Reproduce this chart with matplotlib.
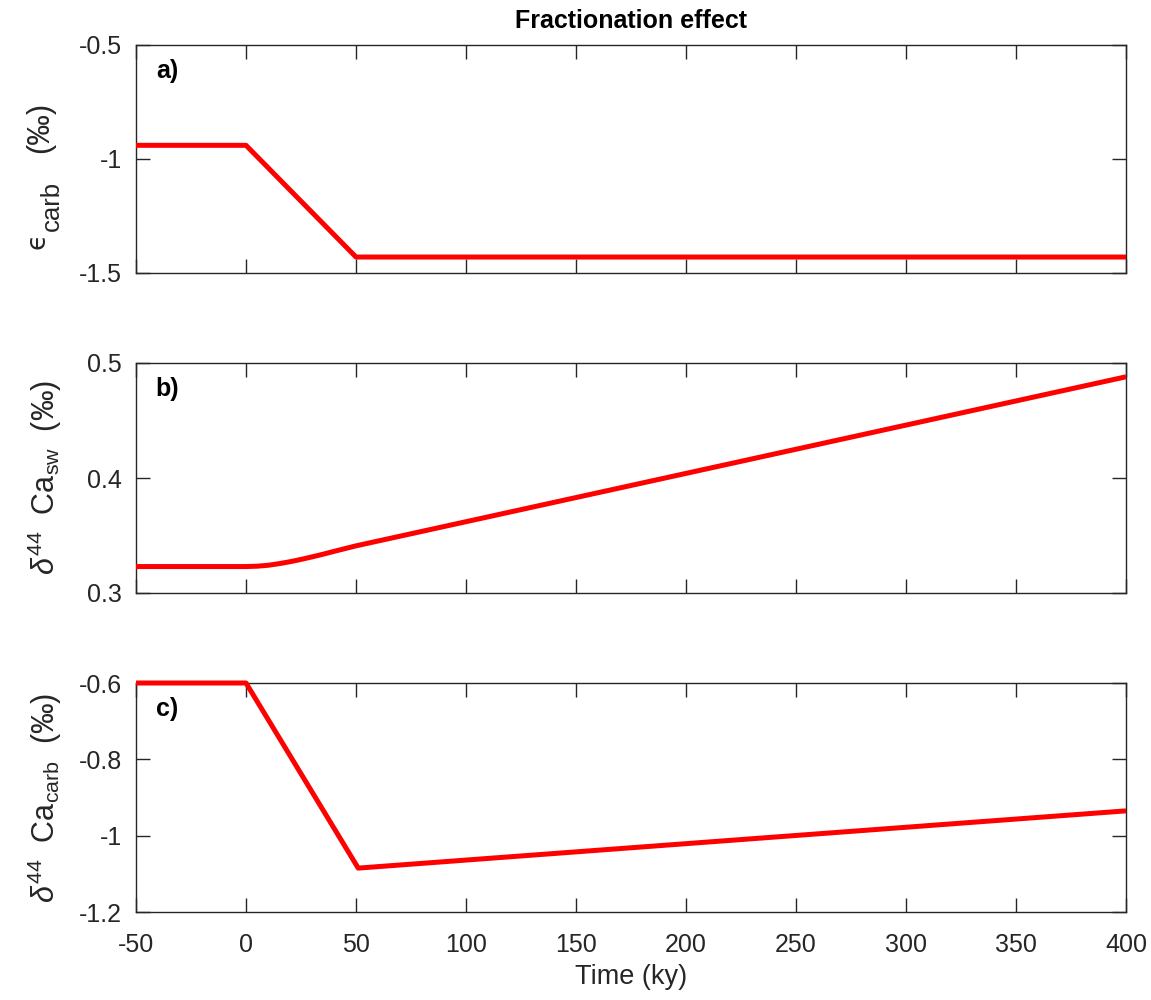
import matplotlib
matplotlib.use("Agg")
import matplotlib.pyplot as plt

plt.rcParams['font.family'] = ['Liberation Sans', 'DejaVu Sans']
plt.rcParams['mathtext.fontset'] = 'custom'
plt.rcParams['mathtext.rm'] = 'Liberation Sans'
plt.rcParams['mathtext.it'] = 'Liberation Sans:italic'
plt.rcParams['mathtext.bf'] = 'Liberation Sans:bold'

# Panel a: epsilon_carb
t_a = [-50, 0, 50, 400]
eps_carb = [-0.94, -0.94, -1.43, -1.43]

# Panel b: delta44 Ca seawater
t_b = [-50, 0, 5, 10, 15, 20, 25, 30, 35, 40, 45, 50, 100, 150, 200, 250, 300, 350, 400]
d44_sw = [0.323, 0.323, 0.3233, 0.3241, 0.3255, 0.3272, 0.3292, 0.3314, 0.3337,
          0.3362, 0.3386, 0.341, 0.362, 0.383, 0.404, 0.425, 0.446, 0.467, 0.488]

# Panel c: delta44 Ca carbonate
t_c = [-50, 0, 51, 400]
d44_carb = [-0.60, -0.60, -1.085, -0.935]

xticks = [-50, 0, 50, 100, 150, 200, 250, 300, 350, 400]
xticklabels = ['-50', '0', '50', '100', '150', '200', '250', '300', '350', '400']
yticks_a = [-1.5, -1.0, -0.5]
yticklabels_a = ['-1.5', '-1', '-0.5']
yticks_b = [0.3, 0.4, 0.5]
yticklabels_b = ['0.3', '0.4', '0.5']
yticks_c = [-1.2, -1.0, -0.8, -0.6]
yticklabels_c = ['-1.2', '-1', '-0.8', '-0.6']

W, H = 1151, 1000
fig = plt.figure(figsize=(W/100, H/100), dpi=100)
left, width = 136/W, (1126-136)/W
boxes = [(45, 273), (363, 593), (683, 912)]
axes = []
for top, bot in boxes:
    ax = fig.add_axes([left, 1-bot/H, width, (bot-top)/H])
    axes.append(ax)

gray = '#262626'
data = [(t_a, eps_carb, (-1.5, -0.5), yticks_a, yticklabels_a, 'a)'),
        (t_b, d44_sw, (0.3, 0.5), yticks_b, yticklabels_b, 'b)'),
        (t_c, d44_carb, (-1.2, -0.6), yticks_c, yticklabels_c, 'c)')]
for i, (ax, (t, y, ylim, yt, ytl, lab)) in enumerate(zip(axes, data)):
    ax.plot(t, y, color='#ff0000', lw=3.6, clip_on=False, solid_capstyle='butt', zorder=3)
    ax.set_xlim(-50, 400)
    ax.set_ylim(*ylim)
    ax.set_xticks(xticks)
    ax.set_yticks(yt)
    ax.set_yticklabels(ytl)
    if i == 2:
        ax.set_xticklabels(xticklabels)
    else:
        ax.set_xticklabels([])
    ax.tick_params(direction='in', length=10, width=1, colors=gray, labelsize=18,
                   top=True, right=True, labelcolor=gray)
    ax.tick_params(axis='y', pad=10)
    ax.tick_params(axis='x', pad=15)
    for s in ax.spines.values():
        s.set_color(gray)
        s.set_linewidth(1)
    ax.text(0.02, 0.885, lab, transform=ax.transAxes, fontsize=18, fontweight='bold',
            color='black', va='center', ha='left')

# panel a y label built from pieces (epsilon, subscript, unit)
def ptext(x, y, s, size, **kw):
    fig.text(x/W, 1-y/H, s, fontsize=size, rotation=90, rotation_mode='anchor',
             ha='left', va='baseline', color=gray, **kw)

ptext(44, 249, '\u03f5', 19, family=['DejaVu Sans'])
ptext(59, 231, 'carb', 18.5)
ptext(48, 153, '(‰)', 22)

axes[1].set_ylabel(r'$\delta^{44}$  Ca$_{\rm sw}$  (‰)', fontsize=22, color=gray)
axes[2].set_ylabel(r'$\delta^{44}$  Ca$_{\rm carb}$  (‰)', fontsize=22, color=gray)
for ax in axes[1:]:
    ax.yaxis.set_label_coords(-0.073, 0.5)
axes[2].set_xlabel('Time (ky)', fontsize=19.5, color=gray, labelpad=5)
fig.text(0.5 * (left + left + width), 1 - 21/H, 'Fractionation effect',
         fontsize=18, fontweight='bold', ha='center', va='center')

fig.savefig('out.png', dpi=100)
